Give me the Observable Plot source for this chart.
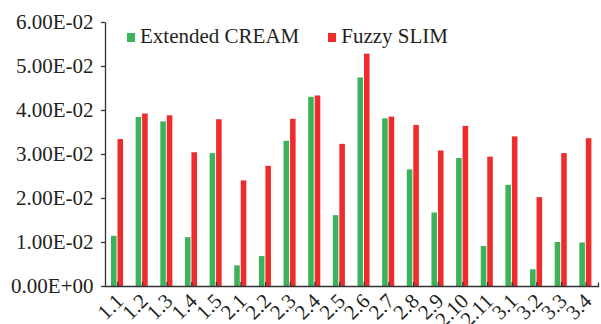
<!DOCTYPE html>
<html>
<head>
<meta charset="utf-8">
<script src="https://cdn.jsdelivr.net/npm/d3@7"></script>
<script src="https://cdn.jsdelivr.net/npm/@observablehq/plot@0.6"></script>
<style>
  body { margin: 0; background: #fff; }
  #wrap { position: relative; width: 601px; height: 324px; font-family: "Liberation Serif", "Times New Roman", serif; color: #231f20; }
  .legend { position: absolute; top: 24px; left: 127px; display: flex; align-items: center; font-size: 21px; line-height: 24px; white-space: nowrap; }
  .item { display: flex; align-items: center; }
  .sw { width: 8px; height: 9px; margin-right: 5px; margin-top: 2px; }
</style>
</head>
<body>
<div id="wrap"></div>
<script>
const categories = ["1.1","1.2","1.3","1.4","1.5","2.1","2.2","2.3","2.4","2.5","2.6","2.7","2.8","2.9","2.10","2.11","3.1","3.2","3.3","3.4"];
const seriesNames = ["Extended CREAM", "Fuzzy SLIM"];
const extendedCream = [0.0114,0.0384,0.0374,0.0111,0.0302,0.0047,0.0068,0.0330,0.0430,0.0161,0.0474,0.0381,0.0265,0.0167,0.0291,0.0091,0.0230,0.0038,0.0100,0.0099];
const fuzzySlim     = [0.0334,0.0392,0.0388,0.0304,0.0379,0.0240,0.0273,0.0380,0.0433,0.0323,0.0528,0.0385,0.0366,0.0308,0.0364,0.0294,0.0340,0.0202,0.0302,0.0336];
const yTicks = [0, 0.01, 0.02, 0.03, 0.04, 0.05, 0.06];
const colors = ["#3cb35a", "#ef2b2b"];

const fmt = v => {
  const [m, e] = v.toExponential(2).split("e");
  const sign = e[0] === "-" ? "-" : "+";
  const n = Math.abs(+e);
  return `${m}E${sign}${String(n).padStart(2, "0")}`;
};

const rowsA = categories.map((c, i) => ({cat: c, series: seriesNames[0], value: extendedCream[i]}));
const rowsB = categories.map((c, i) => ({cat: c, series: seriesNames[1], value: fuzzySlim[i]}));

const W = 601, H = 324, mL = 105, mR = 3, mT = 22, mB = 38;
const fw = W - mL - mR, fh = H - mT - mB;

const chart = Plot.plot({
  width: W, height: H,
  marginLeft: mL, marginRight: mR, marginTop: mT, marginBottom: mB,
  style: {fontFamily: "'Liberation Serif', 'Times New Roman', serif", fontSize: "21px", color: "#231f20", background: "#fff", overflow: "visible"},
  x: {domain: categories, padding: 0, round: false, label: null, axis: null},
  y: {domain: [0, 0.06], label: null, axis: null},
  color: {domain: seriesNames, range: colors},
  marks: [
    Plot.barY(rowsA, {x: "cat", y: "value", fill: "series", insetLeft: 6, insetRight: 13.1}),
    Plot.barY(rowsB, {x: "cat", y: "value", fill: "series", insetLeft: 12.5, insetRight: 6.6}),
    Plot.frame({stroke: "#333", strokeWidth: 1.3, strokeDasharray: `0 ${fw + fh - 4} ${fw + fh + 8}`}),
    Plot.axisY({ticks: yTicks, tickFormat: fmt, tickSize: 4, tickPadding: 8, label: null, stroke: "#333", strokeWidth: 1.3, fontSize: 21, fill: "#231f20"}),
    Plot.axisX({tickSize: -4, tickFormat: () => "", label: null, stroke: "#333", strokeWidth: 1.3}),
    Plot.axisX({tickSize: 0, tickPadding: 11, dx: 2, tickRotate: -45, label: null, fontSize: 21, fill: "#231f20"})
  ]
});

const wrap = document.getElementById("wrap");
wrap.appendChild(chart);

const legend = document.createElement("div");
legend.className = "legend";
seriesNames.forEach((name, i) => {
  const item = document.createElement("div");
  item.className = "item";
  item.style.marginRight = i === 0 ? "29px" : "0";
  const sw = document.createElement("span");
  sw.className = "sw";
  sw.style.background = colors[i];
  const t = document.createElement("span");
  t.textContent = name;
  item.appendChild(sw);
  item.appendChild(t);
  legend.appendChild(item);
});
wrap.appendChild(legend);
</script>
</body>
</html>
